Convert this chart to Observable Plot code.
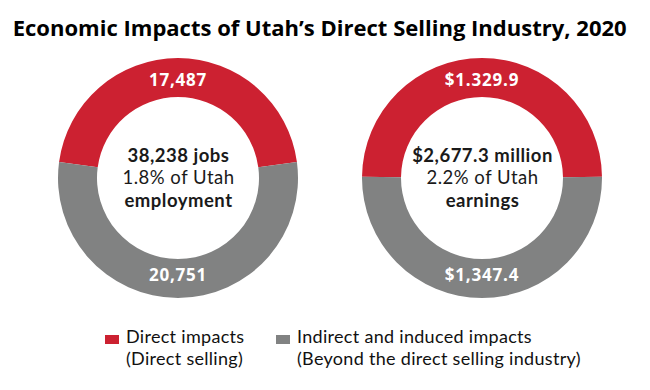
<!DOCTYPE html>
<html>
<head>
<meta charset="utf-8">
<script src="https://cdn.jsdelivr.net/npm/d3@7"></script>
<script src="https://cdn.jsdelivr.net/npm/@observablehq/plot@0.6"></script>
<style>
  html, body { margin: 0; padding: 0; background: #fff; }
  body { width: 650px; height: 390px; position: relative; overflow: hidden; font-family: "Open Sans", sans-serif; color: #1a1a1a; }
  #title { position: absolute; top: 12px; left: 0; width: 640px; text-align: center; line-height: 30px; white-space: nowrap; }
  #title span { display: inline-block; font-size: 22px; font-weight: 700; transform-origin: 50% 50%; color: #000; }
  #chart { position: absolute; top: 48px; left: 0; }
  #legend { position: absolute; top: 326px; left: 0; width: 650px; height: 50px; }
  .item { position: absolute; top: 0; font-family: Lato, "Open Sans", sans-serif; font-size: 18px; line-height: 21.6px; letter-spacing: 0.3px; white-space: nowrap; color: #111; }
  .swatch { position: absolute; top: 9px; width: 14px; height: 9px; }
  .txt { position: absolute; top: 0; }
</style>
</head>
<body>
<div id="title"><span>Economic Impacts of Utah’s Direct Selling Industry, 2020</span></div>
<div id="chart"></div>
<div id="legend"></div>
<script>
// ---- data ----
const metrics = ["jobs", "earnings"];
const directValues = [17487, 1329.9];
const indirectValues = [20751, 1347.4];
const directLabels = ["17,487", "$1.329.9"];
const indirectLabels = ["20,751", "$1,347.4"];
const totalLabels = ["38,238 jobs", "$2,677.3 million"];
const shareLabels = ["1.8% of Utah", "2.2% of Utah"];
const measureLabels = ["employment", "earnings"];
const impactTypes = ["Direct impacts", "Indirect and induced impacts"];
const impactNotes = ["(Direct selling)", "(Beyond the direct selling industry)"];
const colors = ["#cc2131", "#818282"];

// ---- derived table ----
const slices = metrics.flatMap((m, i) => [
  {metric: m, impact: impactTypes[0], value: directValues[i], label: directLabels[i]},
  {metric: m, impact: impactTypes[1], value: indirectValues[i], label: indirectLabels[i]}
]);

const outerR = 120, innerR = 81, labelR = 97.5;

function donuts(index, scales, values, dims) {
  const cy = dims.marginTop + (dims.height - dims.marginTop - dims.marginBottom) / 2;
  const g = d3.create("svg:g");
  const arc = d3.arc().innerRadius(innerR).outerRadius(outerR);
  metrics.forEach((m) => {
    const rows = slices.filter(d => d.metric === m);
    const total = d3.sum(rows, d => d.value);
    const share = rows[0].value / total;
    const pie = d3.pie().sort(null).value(d => d.value)
      .startAngle(-share * Math.PI).endAngle(2 * Math.PI - share * Math.PI)(rows);
    const cx = scales.x(m);
    const gg = g.append("g").attr("transform", `translate(${cx},${cy})`);
    gg.selectAll("path").data(pie).join("path")
      .attr("d", arc)
      .attr("fill", d => scales.color ? scales.color(d.data.impact) : colors[impactTypes.indexOf(d.data.impact)]);
    gg.selectAll("text").data(pie).join("text")
      .attr("x", d => labelR * Math.sin((d.startAngle + d.endAngle) / 2))
      .attr("y", d => -labelR * Math.cos((d.startAngle + d.endAngle) / 2))
      .attr("dy", "0.32em")
      .attr("text-anchor", "middle")
      .attr("fill", "#fff")
      .attr("font-size", 17)
      .attr("font-weight", 700)
      .attr("letter-spacing", "0.8px")
      .text(d => d.data.label);
  });
  return g.node();
}

const centerFont = "Lato";
const centerSize = 18.5;
const lineGap = 22.2;

const chart = Plot.plot({
  width: 650,
  height: 260,
  marginLeft: 26,
  marginRight: 16,
  marginTop: 0,
  marginBottom: 0,
  style: {fontFamily: "Open Sans", overflow: "visible", background: "transparent", letterSpacing: "0.5px"},
  x: {type: "point", domain: metrics, padding: 0.5, axis: null},
  color: {domain: impactTypes, range: colors},
  marks: [
    Plot.dot(slices, {x: "metric", fill: "impact", r: 0}),
    donuts,
    Plot.text(metrics, {x: d => d, text: (d, i) => totalLabels[i], dy: -lineGap, fontFamily: centerFont, fontSize: centerSize, fontWeight: 700, fill: "#1a1a1a"}),
    Plot.text(metrics, {x: d => d, text: (d, i) => shareLabels[i], dy: 0, fontFamily: centerFont, fontSize: centerSize, fontWeight: 400, fill: "#1a1a1a"}),
    Plot.text(metrics, {x: d => d, text: (d, i) => measureLabels[i], dy: lineGap, fontFamily: centerFont, fontSize: centerSize, fontWeight: 700, fill: "#1a1a1a"})
  ]
});
document.getElementById("chart").appendChild(chart);

// ---- legend ----
const legendLeft = [105, 276];
const legend = document.getElementById("legend");
impactTypes.forEach((t, i) => {
  const item = document.createElement("div");
  item.className = "item";
  item.style.left = legendLeft[i] + "px";
  const sw = document.createElement("div");
  sw.className = "swatch";
  sw.style.left = "0px";
  sw.style.background = colors[i];
  const tx = document.createElement("div");
  tx.className = "txt";
  tx.style.left = "21px";
  const l1 = document.createElement("div"); l1.textContent = t;
  const l2 = document.createElement("div"); l2.textContent = impactNotes[i];
  tx.appendChild(l1); tx.appendChild(l2);
  item.appendChild(sw); item.appendChild(tx);
  legend.appendChild(item);
});

// ---- title fit ----
function fitTitle() {
  const s = document.querySelector("#title span");
  s.style.transform = "none";
  const w = s.getBoundingClientRect().width;
  s.style.transform = `scaleX(${614 / w})`;
}
fitTitle();
if (document.fonts && document.fonts.ready) document.fonts.ready.then(fitTitle);
</script>
</body>
</html>
